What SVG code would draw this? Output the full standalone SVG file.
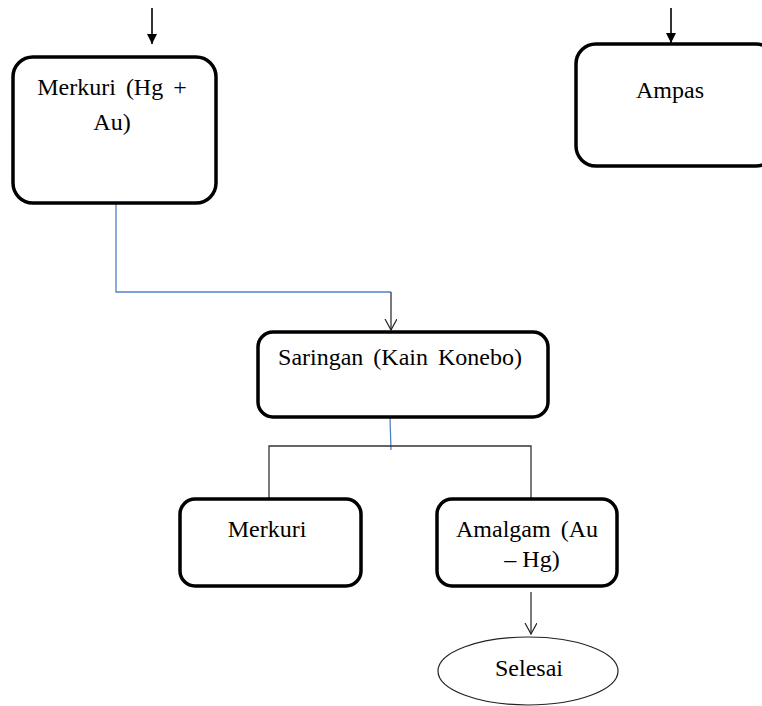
<svg xmlns="http://www.w3.org/2000/svg" width="762" height="706" viewBox="0 0 762 706">
<defs>
<marker id="filled" markerWidth="12" markerHeight="12" refX="10" refY="5" orient="auto" markerUnits="userSpaceOnUse">
<path d="M0,0 L10,5 L0,10 Z" fill="#000"/>
</marker>
<marker id="open" markerWidth="14" markerHeight="14" refX="11" refY="6" orient="auto" markerUnits="userSpaceOnUse">
<path d="M0,0 L11,6 L0,12" fill="none" stroke="#222" stroke-width="1.2"/>
</marker>
</defs>
<style>
.box{fill:#fff;stroke:#000;stroke-width:3.5}
.t{font-family:"Liberation Serif","Times New Roman",serif;font-size:24px;fill:#000;text-anchor:middle;word-spacing:4px}
.blue{fill:none;stroke:#4f81c7;stroke-width:1.3}
.blk{fill:none;stroke:#333;stroke-width:1.3}
</style>
<g id="connectors">
<line x1="152" y1="8" x2="152" y2="44" stroke="#000" stroke-width="1.6" marker-end="url(#filled)"/>
<line x1="671" y1="8" x2="671" y2="43" stroke="#000" stroke-width="1.6" marker-end="url(#filled)"/>
<polyline class="blue" points="116,204 116,292 391,292"/>
<line class="blk" x1="391" y1="292" x2="391" y2="330" marker-end="url(#open)"/>
<line class="blue" x1="390" y1="418" x2="391" y2="450"/>
<polyline class="blk" points="269,498 269,446 531,446 531,498"/>
<line class="blk" x1="531" y1="592" x2="531" y2="634" marker-end="url(#open)"/>
</g>
<g id="node-merkuri-hg-au">
<rect class="box" x="13" y="57" width="203" height="146" rx="20"/>
<text class="t" x="112" y="95">Merkuri (Hg +</text>
<text class="t" x="112" y="130">Au)</text>
</g>
<g id="node-ampas">
<rect class="box" x="576" y="44" width="200" height="122" rx="20"/>
<text class="t" x="670" y="98">Ampas</text>
</g>
<g id="node-saringan">
<rect class="box" x="258" y="332" width="290" height="85" rx="15"/>
<text class="t" x="400" y="365">Saringan (Kain Konebo)</text>
</g>
<g id="node-merkuri">
<rect class="box" x="180" y="499" width="181" height="87" rx="15"/>
<text class="t" x="267" y="537">Merkuri</text>
</g>
<g id="node-amalgam">
<rect class="box" x="437" y="499" width="180" height="87" rx="15"/>
<text class="t" x="527" y="537">Amalgam (Au</text>
<text class="t" x="532" y="567" style="word-spacing:0">– Hg)</text>
</g>
<g id="node-selesai">
<ellipse cx="528" cy="671" rx="90" ry="34" fill="#fff" stroke="#222" stroke-width="1.2"/>
<text class="t" x="529" y="676">Selesai</text>
</g>
</svg>
